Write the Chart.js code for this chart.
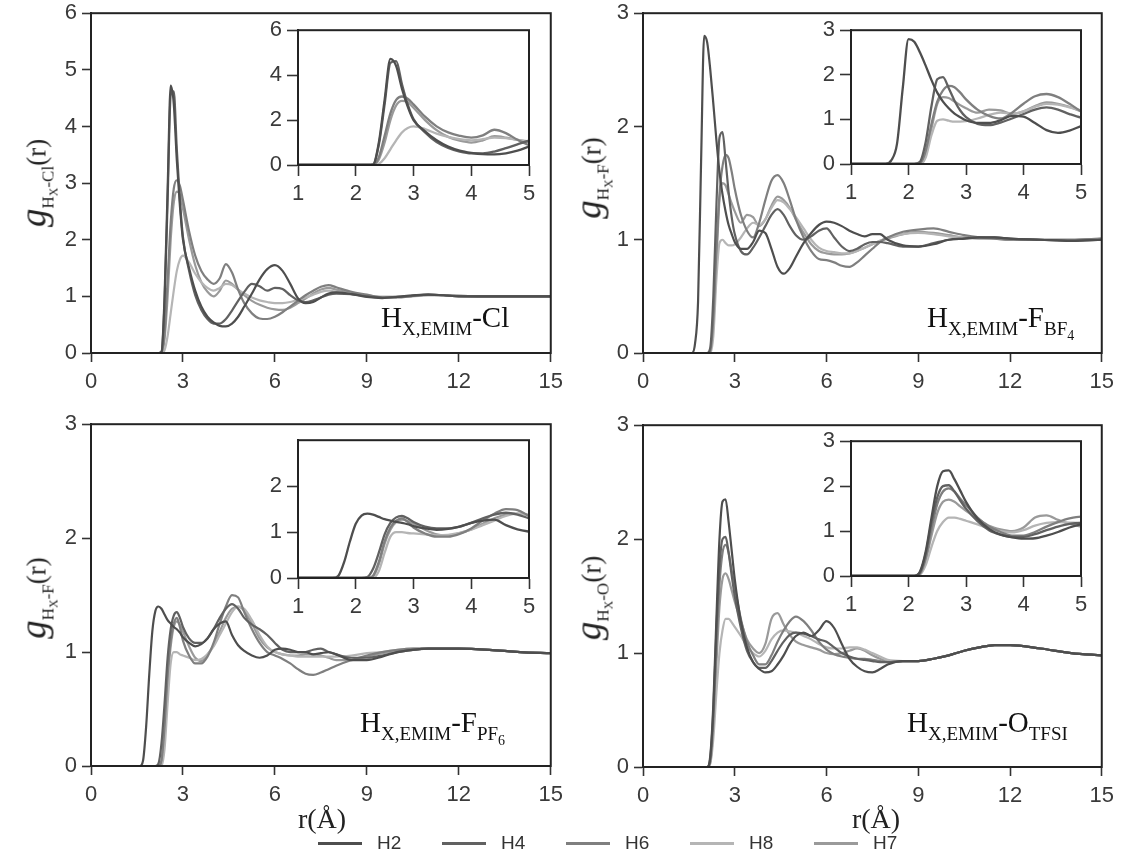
<!DOCTYPE html>
<html lang="en">
<head>
    <meta charset="UTF-8">
    <title>Radial distribution functions H-anion</title>
    <script src="https://cdn.jsdelivr.net/npm/chart.js@4.4.1/dist/chart.umd.min.js"></script>
    <style>
        body { margin: 0; background: #fff; }
        #stage { position: relative; width: 1125px; height: 859px; overflow: hidden; background: #fff; }
        #stage canvas { position: absolute; }
        .ylab { position: absolute; white-space: nowrap; transform: translate(-50%, -50%) rotate(-90deg);
                font-family: 'Liberation Serif', serif; color: #222; font-size: 27px; }
        .ylab i { font-size: 37px; }
        .ylab .s { font-size: 17px; position: relative; top: 8px; }
        .ylab .s .ss { font-size: 12px; position: relative; top: 4px; }
        .xlab { position: absolute; font-family: 'Liberation Serif', serif; font-size: 28px; color: #222;
                transform: translateX(-50%); }
        .note { position: absolute; font-family: 'Liberation Serif', serif; font-size: 29px; color: #111; white-space: nowrap; }
        .note .s { font-size: 19px; position: relative; top: 8px; }
        .note .ss { font-size: 14px; position: relative; top: 5px; }
        #legend { position: absolute; left: 318px; top: 831px; height: 24px; display: flex; align-items: center;
                  font-family: 'Liberation Sans', sans-serif; font-size: 19px; color: #333; }
        #legend .item { display: flex; align-items: center; width: 124px; }
        #legend .sw { width: 44px; height: 3px; margin-right: 15px; }
    </style>
</head>
<body>
<div id="stage"></div>
<script>
    // shared r grid (Angstrom)
    const r = [0, 1.4, 1.6, 1.7, 1.8, 1.9, 2.0, 2.1, 2.2, 2.3,
               2.4, 2.5, 2.6, 2.7, 2.8, 2.9, 3.0, 3.2, 3.4, 3.6,
               3.8, 4.0, 4.2, 4.4, 4.6, 4.8, 5.0, 5.25, 5.5, 5.75,
               6.0, 6.25, 6.5, 6.75, 7.0, 7.25, 7.5, 7.75, 8.0, 8.5,
               9.0, 9.5, 10, 10.5, 11, 11.5, 12, 13, 14, 15];

    const series = ['H2', 'H4', 'H6', 'H8', 'H7'];
    const colors = ['#4e4e4e', '#616161', '#7f7f7f', '#b5b5b5', '#9a9a9a'];

    // H(X,EMIM) - Cl
    const clH2 = [0, 0, 0, 0, 0, 0, 0, 0, 0, 0.02,
                  1.0, 2.9, 4.72, 4.4, 3.4, 2.6, 2.0, 1.5, 1.1, 0.82,
                  0.64, 0.54, 0.48, 0.47, 0.52, 0.64, 0.82, 1.05, 1.3, 1.48,
                  1.55, 1.45, 1.22, 0.97, 0.88, 0.9, 0.98, 1.05, 1.07, 1.04,
                  0.99, 0.97, 0.99, 1.02, 1.03, 1.02, 1.0, 1.0, 1.0, 1.0];
    const clH4 = [0, 0, 0, 0, 0, 0, 0, 0, 0, 0.02,
                  0.9, 2.7, 4.55, 4.62, 3.6, 2.7, 2.05, 1.45, 1.02, 0.76,
                  0.6, 0.52, 0.52, 0.6, 0.75, 0.92, 1.08, 1.22, 1.18, 1.1,
                  1.15, 1.13, 1.02, 0.93, 0.9, 0.93, 0.98, 1.03, 1.05, 1.04,
                  1.0, 0.98, 0.99, 1.01, 1.03, 1.02, 1.0, 1.0, 1.0, 1.0];
    const clH6 = [0, 0, 0, 0, 0, 0, 0, 0, 0, 0,
                  0.35, 1.3, 2.3, 2.9, 3.05, 2.95, 2.7, 2.15, 1.72, 1.45,
                  1.3, 1.22, 1.32, 1.57, 1.42, 1.12, 0.88, 0.7, 0.61, 0.6,
                  0.64, 0.72, 0.82, 0.92, 1.02, 1.1, 1.17, 1.2, 1.16, 1.08,
                  1.03, 0.98, 0.98, 1.01, 1.03, 1.02, 1.01, 1.0, 1.0, 1.0];
    const clH8 = [0, 0, 0, 0, 0, 0, 0, 0, 0, 0,
                  0.05, 0.3, 0.7, 1.1, 1.45, 1.65, 1.72, 1.6, 1.4, 1.25,
                  1.15, 1.1, 1.15, 1.22, 1.2, 1.12, 1.05, 0.98, 0.93, 0.9,
                  0.88, 0.88, 0.9, 0.94, 0.98, 1.03, 1.08, 1.1, 1.08, 1.04,
                  1.01, 0.99, 0.99, 1.0, 1.02, 1.02, 1.01, 1.0, 1.0, 1.0];
    const clH7 = [0, 0, 0, 0, 0, 0, 0, 0, 0, 0,
                  0.25, 1.0, 2.0, 2.65, 2.85, 2.8, 2.55, 2.0, 1.55, 1.25,
                  1.08, 1.0, 1.1, 1.28, 1.22, 1.12, 1.02, 0.92, 0.85, 0.8,
                  0.77, 0.76, 0.8, 0.88, 0.96, 1.05, 1.12, 1.15, 1.12, 1.06,
                  1.02, 0.99, 0.99, 1.01, 1.02, 1.02, 1.01, 1.0, 1.0, 1.0];

    // H(X,EMIM) - F (BF4)
    const bf4H2 = [0, 0, 0, 0.08, 0.45, 1.7, 2.8, 2.74, 2.5, 2.2,
                   1.88, 1.6, 1.4, 1.25, 1.13, 1.05, 0.98, 0.92, 0.92, 0.98,
                   1.08, 1.06, 0.92, 0.76, 0.7, 0.75, 0.85, 0.97, 1.06, 1.13,
                   1.16, 1.15, 1.12, 1.08, 1.05, 1.03, 1.05, 1.05, 1.0, 0.95,
                   0.94, 0.96, 1.0, 1.01, 1.02, 1.02, 1.01, 1.0, 0.99, 1.0];
    const bf4H4 = [0, 0, 0, 0, 0, 0, 0, 0, 0.05, 0.5,
                   1.3, 1.9, 1.95, 1.7, 1.42, 1.2, 1.05, 0.9, 0.87, 0.93,
                   1.02, 1.12, 1.22, 1.27, 1.22, 1.12, 1.04, 1.0, 1.03, 1.08,
                   1.1, 1.02, 0.94, 0.9, 0.92, 0.96, 0.98, 0.98, 0.97, 0.94,
                   0.94, 0.97, 1.0, 1.01, 1.02, 1.02, 1.01, 1.0, 0.99, 1.0];
    const bf4H6 = [0, 0, 0, 0, 0, 0, 0, 0, 0.02, 0.3,
                   0.9, 1.4, 1.65, 1.75, 1.72, 1.6, 1.45, 1.22, 1.08, 1.02,
                   1.15, 1.35, 1.52, 1.57, 1.5, 1.35, 1.18, 1.02, 0.9, 0.83,
                   0.82, 0.8, 0.77, 0.76, 0.8, 0.86, 0.92, 0.98, 1.02, 1.07,
                   1.09, 1.1, 1.07, 1.04, 1.02, 1.01, 1.0, 1.0, 1.0, 1.01];
    const bf4H8 = [0, 0, 0, 0, 0, 0, 0, 0, 0, 0.15,
                   0.65, 0.97, 1.0, 0.97, 0.95, 0.95, 0.96, 1.02, 1.1, 1.15,
                   1.13, 1.18, 1.28, 1.35, 1.33, 1.27, 1.2, 1.1, 1.0, 0.93,
                   0.9, 0.89, 0.88, 0.88, 0.9, 0.93, 0.96, 0.99, 1.02, 1.05,
                   1.06, 1.05, 1.03, 1.02, 1.01, 1.01, 1.0, 1.0, 1.0, 1.0];
    const bf4H7 = [0, 0, 0, 0, 0, 0, 0, 0, 0.02, 0.25,
                   0.8, 1.35, 1.5, 1.48, 1.4, 1.32, 1.25, 1.15, 1.22, 1.2,
                   1.12, 1.18, 1.3, 1.38, 1.35, 1.28, 1.18, 1.06, 0.96, 0.9,
                   0.88, 0.87, 0.87, 0.88, 0.9, 0.93, 0.96, 0.99, 1.01, 1.05,
                   1.07, 1.06, 1.04, 1.02, 1.01, 1.01, 1.0, 1.0, 1.0, 1.01];

    // H(X,EMIM) - F (PF6)
    const pf6H2 = [0, 0, 0, 0.05, 0.35, 0.8, 1.18, 1.36, 1.4, 1.38,
                   1.33, 1.28, 1.25, 1.22, 1.2, 1.17, 1.13, 1.08, 1.05, 1.07,
                   1.12, 1.2, 1.25, 1.27, 1.15, 1.06, 1.01, 0.97, 0.95, 0.97,
                   1.02, 1.03, 1.02, 1.0, 1.0, 0.98, 0.99, 1.0, 0.98, 0.93,
                   0.93, 0.96, 1.0, 1.02, 1.03, 1.03, 1.03, 1.02, 1.0, 0.99];
    const pf6H4 = [0, 0, 0, 0, 0, 0, 0, 0, 0.02, 0.2,
                   0.55, 0.95, 1.2, 1.32, 1.35, 1.3, 1.22, 1.12, 1.08, 1.08,
                   1.12, 1.2, 1.3, 1.38, 1.42, 1.38, 1.3, 1.24, 1.2, 1.15,
                   1.08, 1.02, 1.0, 1.0, 1.0, 1.02, 1.03, 1.0, 0.98, 0.95,
                   0.95, 0.97, 1.0, 1.02, 1.03, 1.03, 1.03, 1.02, 1.0, 0.99];
    const pf6H6 = [0, 0, 0, 0, 0, 0, 0, 0, 0, 0.05,
                   0.35, 0.8, 1.1, 1.25, 1.3, 1.22, 1.1, 0.97, 0.9, 0.9,
                   0.96, 1.08, 1.25, 1.4, 1.5, 1.48, 1.35, 1.2, 1.08, 1.0,
                   0.97, 0.94, 0.9, 0.85, 0.81, 0.8, 0.82, 0.85, 0.88, 0.93,
                   0.97, 1.0, 1.02, 1.03, 1.03, 1.03, 1.03, 1.02, 1.0, 0.99];
    const pf6H8 = [0, 0, 0, 0, 0, 0, 0, 0, 0, 0,
                   0.15, 0.55, 0.9, 1.0, 1.0, 0.98, 0.97, 0.95, 0.93, 0.94,
                   0.98, 1.05, 1.15, 1.25, 1.35, 1.4, 1.38, 1.28, 1.15, 1.05,
                   1.0, 0.98, 0.97, 0.96, 0.96, 0.96, 0.96, 0.96, 0.96, 0.97,
                   0.99, 1.0, 1.02, 1.03, 1.03, 1.03, 1.03, 1.02, 1.0, 0.99];
    const pf6H7 = [0, 0, 0, 0, 0, 0, 0, 0, 0, 0.03,
                   0.3, 0.75, 1.05, 1.22, 1.27, 1.24, 1.18, 1.05, 0.95, 0.92,
                   0.98, 1.06, 1.18, 1.3, 1.38, 1.4, 1.36, 1.25, 1.12, 1.04,
                   1.0, 0.98, 0.97, 0.97, 0.98, 0.98, 0.97, 0.95, 0.93, 0.93,
                   0.96, 0.99, 1.01, 1.02, 1.03, 1.03, 1.03, 1.02, 1.0, 0.99];

    // H(X,EMIM) - O (TFSI)
    const tfsiH2 = [0, 0, 0, 0, 0, 0, 0, 0, 0.1, 0.55,
                    1.3, 2.0, 2.33, 2.35, 2.15, 1.9, 1.65, 1.28, 1.05, 0.92,
                    0.86, 0.83, 0.84, 0.9, 0.98, 1.08, 1.15, 1.18, 1.15, 1.2,
                    1.28, 1.22, 1.08, 0.95, 0.88, 0.84, 0.83, 0.86, 0.9, 0.93,
                    0.93, 0.95, 0.98, 1.02, 1.05, 1.07, 1.07, 1.04, 1.0, 0.98];
    const tfsiH4 = [0, 0, 0, 0, 0, 0, 0, 0, 0.08, 0.5,
                    1.2, 1.75, 2.0, 2.02, 1.88, 1.68, 1.5, 1.22, 1.02, 0.92,
                    0.87, 0.87, 0.93, 1.02, 1.1, 1.16, 1.18, 1.17, 1.15, 1.12,
                    1.1, 1.05, 1.0, 0.97, 0.95, 0.94, 0.93, 0.92, 0.92, 0.93,
                    0.93, 0.95, 0.98, 1.02, 1.05, 1.07, 1.07, 1.04, 1.0, 0.98];
    const tfsiH6 = [0, 0, 0, 0, 0, 0, 0, 0, 0.05, 0.4,
                    1.05, 1.6, 1.88, 1.95, 1.88, 1.72, 1.58, 1.3, 1.1, 0.98,
                    0.9, 0.9, 0.98, 1.1, 1.2, 1.28, 1.32, 1.28, 1.2, 1.1,
                    1.03, 0.99, 0.97, 0.96, 0.95, 0.95, 0.94, 0.93, 0.92, 0.93,
                    0.93, 0.95, 0.98, 1.02, 1.05, 1.07, 1.07, 1.04, 1.0, 0.98];
    const tfsiH8 = [0, 0, 0, 0, 0, 0, 0, 0, 0.03, 0.25,
                    0.65, 1.0, 1.2, 1.3, 1.3, 1.27, 1.23, 1.15, 1.06, 1.0,
                    0.97, 1.02, 1.12, 1.18, 1.2, 1.19, 1.18, 1.15, 1.12, 1.08,
                    1.05, 1.04, 1.04, 1.05, 1.05, 1.03, 1.0, 0.97, 0.94, 0.93,
                    0.93, 0.95, 0.98, 1.02, 1.05, 1.07, 1.07, 1.04, 1.0, 0.98];
    const tfsiH7 = [0, 0, 0, 0, 0, 0, 0, 0, 0.04, 0.35,
                    0.9, 1.4, 1.65, 1.7, 1.65, 1.55, 1.45, 1.28, 1.12, 1.04,
                    1.0, 1.08, 1.3, 1.35, 1.25, 1.16, 1.1, 1.07, 1.05, 1.03,
                    1.0, 0.99, 1.0, 1.02, 1.04, 1.02, 0.98, 0.95, 0.93, 0.93,
                    0.93, 0.95, 0.98, 1.02, 1.05, 1.07, 1.07, 1.04, 1.0, 0.98];

    const stage = document.getElementById('stage');

    // draws the closed frame round the plot area
    const boxPlugin = {
        id: 'box',
        afterDatasetsDraw(chart) {
            const a = chart.chartArea, ctx = chart.ctx;
            ctx.save();
            ctx.strokeStyle = '#232323';
            ctx.lineWidth = 2;
            ctx.strokeRect(a.left, a.top, a.right - a.left, a.bottom - a.top);
            ctx.restore();
        }
    };

    // area = wanted plot area in page pixels
    function makeChart(area, xr, yr, sets, inset) {
        const yw = inset ? 44 : 52, xh = 48, pt = 16, pr = 18;
        const cv = document.createElement('canvas');
        cv.width = area.R - area.L + yw + pr;
        cv.height = area.B - area.T + pt + xh;
        cv.style.left = (area.L - yw) + 'px';
        cv.style.top = (area.T - pt) + 'px';
        stage.appendChild(cv);

        const tickFont = { family: "'Liberation Sans', Arial, sans-serif", size: 22 };
        const grid = { display: true, drawOnChartArea: false, drawTicks: true,
                       tickLength: inset ? 11 : 9, tickWidth: 1.6, tickColor: '#333' };
        const border = { display: true, color: '#232323', width: 2 };

        new Chart(cv, {
            type: 'line',
            data: {
                datasets: sets.map((ys, i) => ({
                    label: series[i],
                    data: r.map((x, j) => ({ x: x, y: ys[j] })),
                    borderColor: colors[i],
                    borderWidth: inset ? 2.3 : 2.2,
                    pointRadius: 0,
                    fill: false,
                    cubicInterpolationMode: 'monotone'
                }))
            },
            options: {
                responsive: false,
                animation: false,
                events: [],
                layout: { padding: { top: pt, right: pr, left: 0, bottom: 0 } },
                plugins: { legend: { display: false }, tooltip: { enabled: false } },
                scales: {
                    x: {
                        type: 'linear', min: xr[0], max: xr[1],
                        ticks: { stepSize: xr[2], color: '#3a3a3a', font: tickFont, padding: inset ? 5 : 7, maxRotation: 0 },
                        grid: grid, border: border,
                        afterFit(s) { s.height = xh; }
                    },
                    y: {
                        min: 0, max: yr[0],
                        ticks: { stepSize: yr[1], color: '#3a3a3a', font: tickFont, padding: 5 },
                        grid: grid, border: border,
                        afterBuildTicks(s) { if (yr[2]) s.ticks = s.ticks.filter(t => t.value <= yr[2]); },
                        afterFit(s) { s.width = yw; }
                    }
                }
            },
            plugins: [boxPlugin]
        });
    }

    const panels = [
        { sets: [clH2, clH4, clH6, clH8, clH7],
          main: { L: 91, R: 552, T: 11, B: 353 }, ymax: 6,
          inset: { L: 298, R: 529, T: 28, B: 165 }, iy: [6, 2] },
        { sets: [bf4H2, bf4H4, bf4H6, bf4H8, bf4H7],
          main: { L: 643, R: 1103, T: 11, B: 353 }, ymax: 3,
          inset: { L: 851, R: 1081, T: 28, B: 164 }, iy: [3, 1] },
        { sets: [pf6H2, pf6H4, pf6H6, pf6H8, pf6H7],
          main: { L: 91, R: 552, T: 422, B: 766 }, ymax: 3,
          inset: { L: 298, R: 529, T: 438, B: 578 }, iy: [3, 1, 2] },
        { sets: [tfsiH2, tfsiH4, tfsiH6, tfsiH8, tfsiH7],
          main: { L: 643, R: 1103, T: 423, B: 767 }, ymax: 3,
          inset: { L: 851, R: 1081, T: 439, B: 576 }, iy: [3, 1] }
    ];

    panels.forEach(p => {
        makeChart(p.main, [0, 15, 3], [p.ymax, 1], p.sets, false);
        makeChart(p.inset, [1, 5, 1], p.iy, p.sets, true);
    });

    // text pieces: y titles, x titles, panel notes
    function addHTML(cls, x, y, html) {
        const d = document.createElement('div');
        d.className = cls;
        d.style.left = x + 'px';
        d.style.top = y + 'px';
        d.innerHTML = html;
        stage.appendChild(d);
    }
    const ylabs = [
        [33, 183, 'H<span class="ss">X</span>-Cl'],
        [588, 178, 'H<span class="ss">X</span>-F'],
        [33, 598, 'H<span class="ss">X</span>-F'],
        [588, 598, 'H<span class="ss">X</span>-O']
    ];
    ylabs.forEach(l => addHTML('ylab', l[0], l[1], '<i>g</i><span class="s">' + l[2] + '</span>(r)'));

    addHTML('xlab', 322, 803, 'r(Å)');
    addHTML('xlab', 876, 803, 'r(Å)');

    addHTML('note', 381, 301, 'H<span class="s">X,EMIM</span>-Cl');
    addHTML('note', 927, 301, 'H<span class="s">X,EMIM</span>-F<span class="s">BF<span class="ss">4</span></span>');
    addHTML('note', 360, 706, 'H<span class="s">X,EMIM</span>-F<span class="s">PF<span class="ss">6</span></span>');
    addHTML('note', 907, 706, 'H<span class="s">X,EMIM</span>-O<span class="s">TFSI</span>');

    // legend built from the series list
    const legend = document.createElement('div');
    legend.id = 'legend';
    series.forEach((s, i) => {
        const it = document.createElement('div');
        it.className = 'item';
        it.innerHTML = '<span class="sw" style="background:' + colors[i] + '"></span><span>' + s + '</span>';
        legend.appendChild(it);
    });
    stage.appendChild(legend);
</script>
</body>
</html>
